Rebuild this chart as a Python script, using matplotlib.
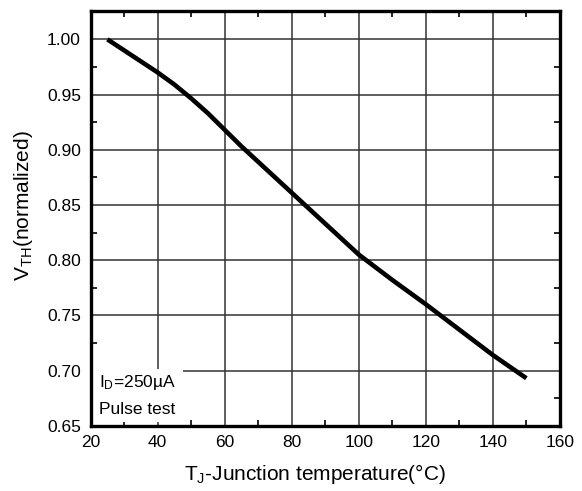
import matplotlib
matplotlib.use("Agg")
import matplotlib.pyplot as plt
from matplotlib.patches import Rectangle
from matplotlib.ticker import MultipleLocator

plt.rcParams["font.family"] = "Liberation Sans"
plt.rcParams["mathtext.fontset"] = "custom"
plt.rcParams["mathtext.rm"] = "Liberation Sans"
plt.rcParams["mathtext.it"] = "Liberation Sans"

# junction temperature (C) vs normalized threshold voltage
temp = [25, 30, 35, 40, 45, 50, 55, 60, 65, 70, 80, 90, 100, 110, 120, 130, 140, 150]
vth = [1.000, 0.990, 0.980, 0.970, 0.9590, 0.9465, 0.933, 0.918, 0.903, 0.889,
       0.861, 0.833, 0.805, 0.782, 0.760, 0.737, 0.714, 0.693]

x_ticks = [20, 40, 60, 80, 100, 120, 140, 160]
y_ticks = [0.65, 0.70, 0.75, 0.80, 0.85, 0.90, 0.95, 1.00]

fig = plt.figure(figsize=(5.82, 4.91), dpi=100)
ax = fig.add_axes([0.1558, 0.133, 0.962 - 0.1558, 0.9776 - 0.133])

ax.set_xlim(20, 160)
ax.set_ylim(0.65, 1.0257)
ax.set_xticks(x_ticks)
ax.set_yticks(y_ticks)
ax.set_yticklabels([f"{v:.2f}" for v in y_ticks])
ax.xaxis.set_minor_locator(MultipleLocator(10))
ax.yaxis.set_minor_locator(MultipleLocator(0.025))
ax.tick_params(which="major", length=0, pad=7, labelsize=12.5)
ax.tick_params(which="minor", direction="in", length=4, width=1.2,
               top=True, right=True, bottom=True, left=True)

ax.grid(True, which="major", color="#333333", lw=1.1)
for s in ax.spines.values():
    s.set_linewidth(2.4)
    s.set_zorder(5)

ax.plot(temp, vth, color="black", lw=3.3, solid_capstyle="butt",
        solid_joinstyle="round", zorder=4)

# white label box covering the grid in the lower-left corner
ax.add_patch(Rectangle((20, 0.6535), 27.6, 0.048, facecolor="white",
                       edgecolor="none", zorder=3))
ax.text(22.5, 0.6895, r"I$_{\mathregular{D}}$=250µA", fontsize=12.5, va="center", zorder=4)
ax.text(22.5, 0.6645, "Pulse test", fontsize=12.5, va="center", zorder=4)

ax.set_xlabel(r"T$_{\mathregular{J}}$-Junction temperature(°C)", fontsize=15)
ax.set_ylabel(r"V$_{\mathregular{TH}}$(normalized)", fontsize=15)
ax.xaxis.set_label_coords(0.478, -0.088)
ax.yaxis.set_label_coords(-0.118, 0.53)

fig.savefig("out.png", dpi=100)
